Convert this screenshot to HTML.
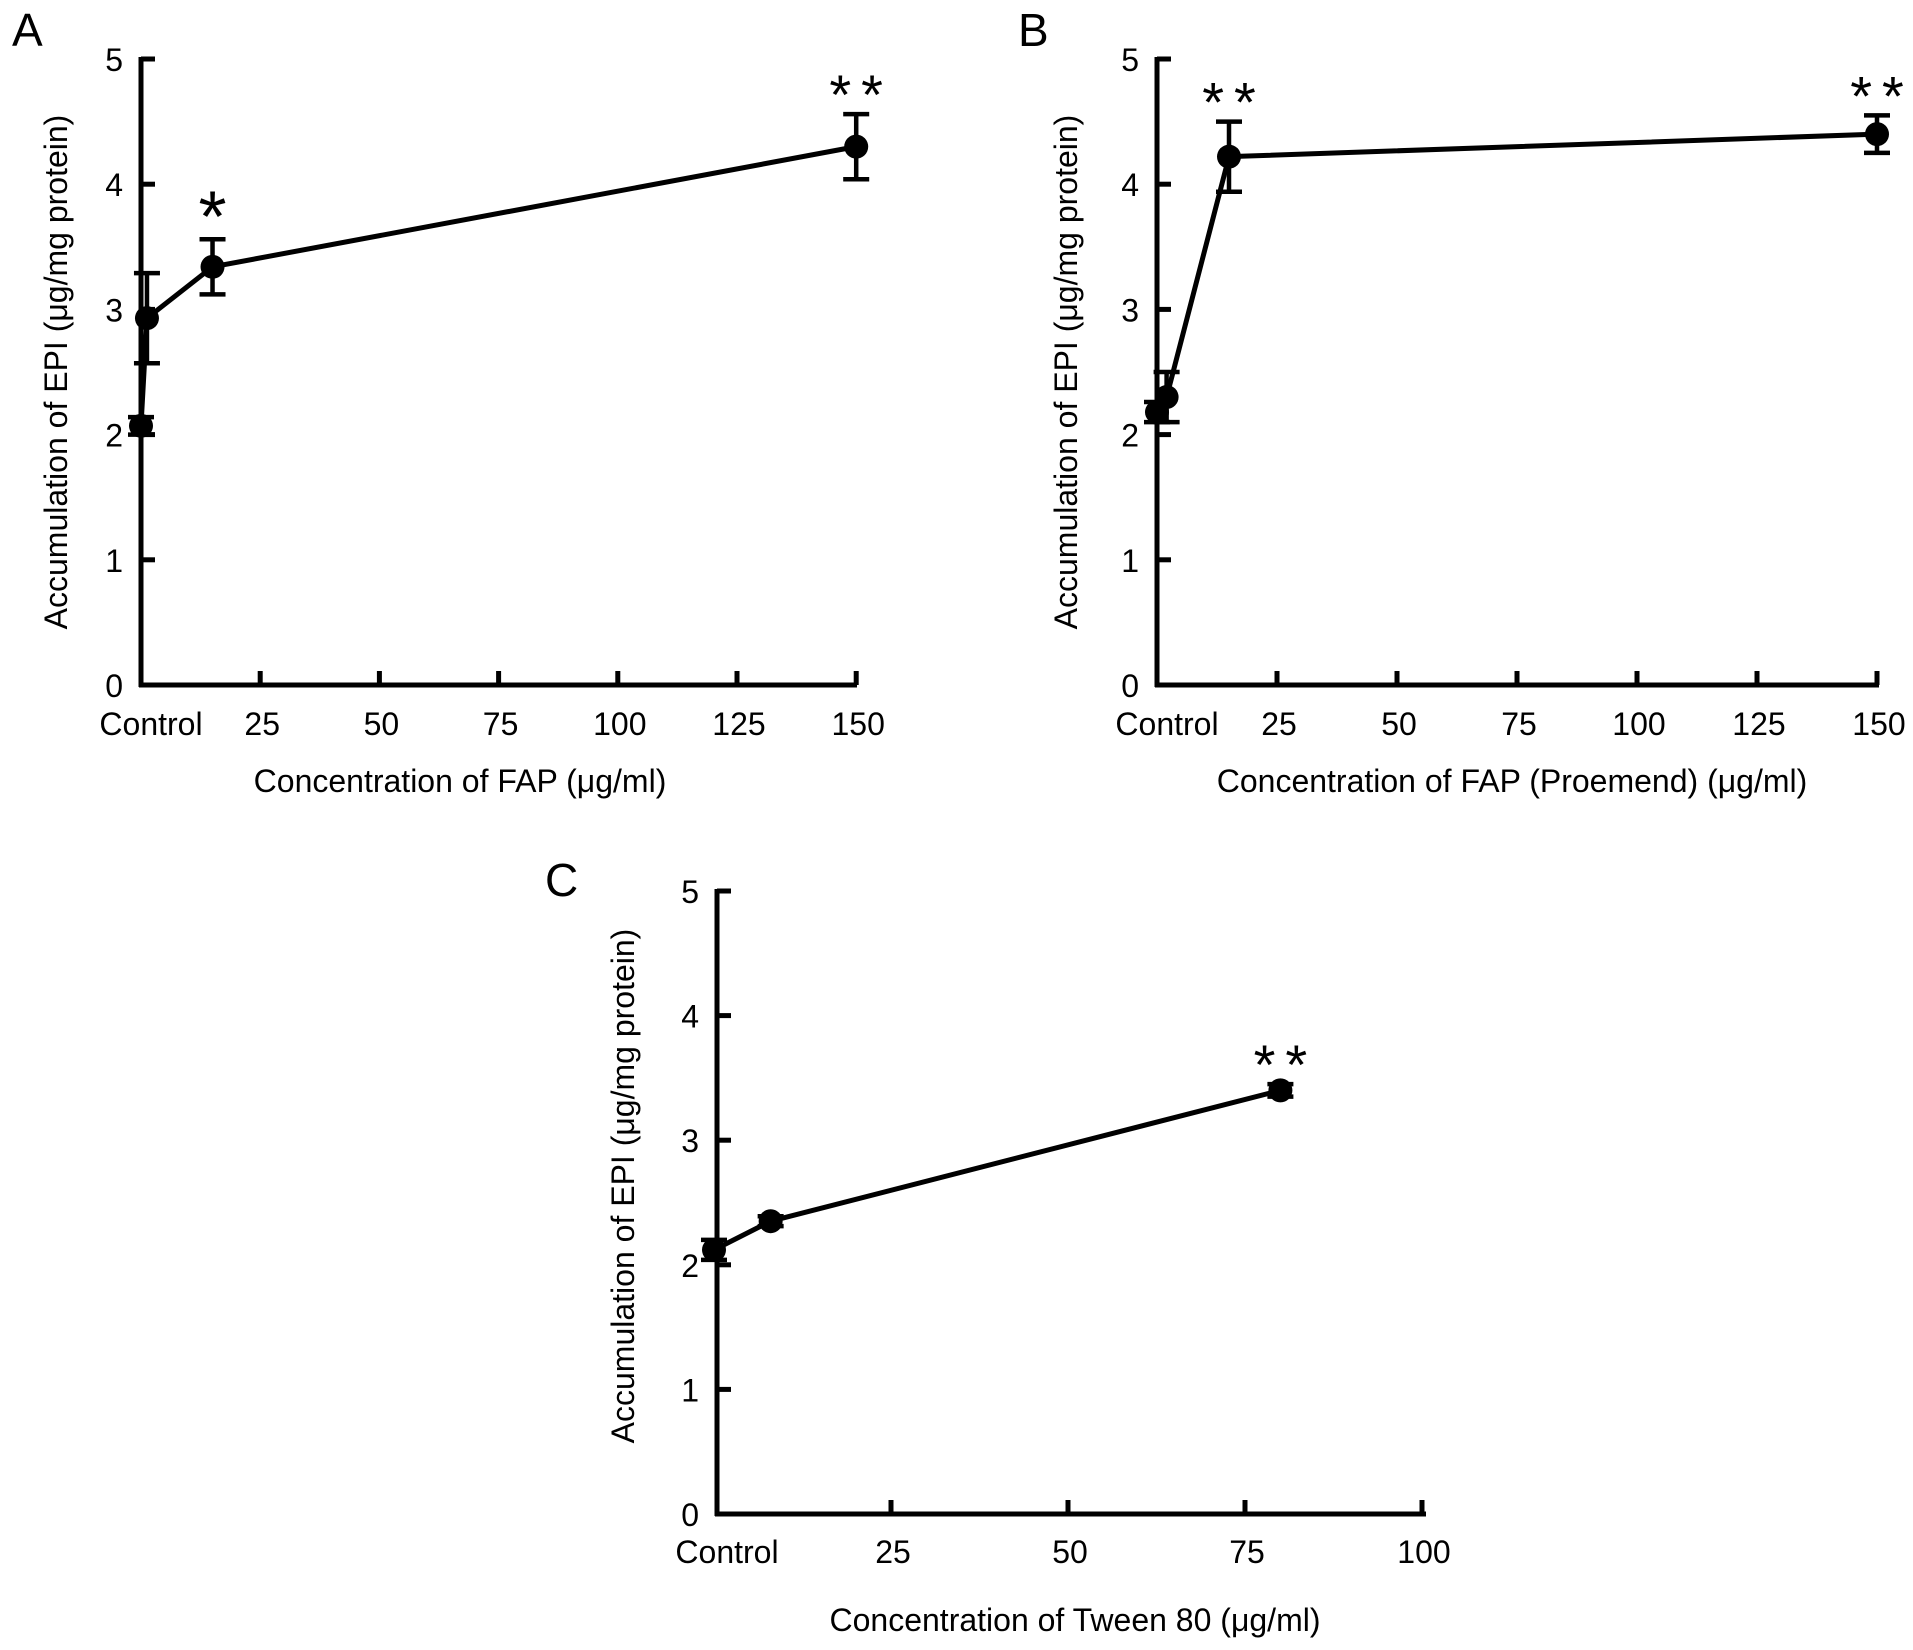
<!DOCTYPE html>
<html><head><meta charset="utf-8"><style>
html,body{margin:0;padding:0;background:#fff;}
svg{display:block;font-family:"Liberation Sans",Arial,sans-serif;}
</style></head><body>
<svg id="fig" width="1913" height="1650" viewBox="0 0 1913 1650"></svg>
<script>
// Panel A data
const concA = [0, 1.25, 15, 150];
const valA = [2.07, 2.93, 3.34, 4.30];
const errA = [0.07, 0.36, 0.22, 0.26];
const sigA = ["", "", "*", "**"];
const xTicksA = [25, 50, 75, 100, 125, 150];
// Panel B data
const concB = [0, 2, 15, 150];
const valB = [2.18, 2.30, 4.22, 4.40];
const errB = [0.08, 0.20, 0.28, 0.15];
const sigB = ["", "", "**", "**"];
const xTicksB = [25, 50, 75, 100, 125, 150];
// Panel C data
const concC = [0, 8, 80];
const valC = [2.12, 2.35, 3.40];
const errC = [0.08, 0.04, 0.05];
const sigC = ["", "", "**"];
const xTicksC = [25, 50, 75, 100];
const yTicks = [0, 1, 2, 3, 4, 5];

const NS = "http://www.w3.org/2000/svg";
const svg = document.getElementById("fig");
function mk(tag, attrs, parent, text) {
  const e = document.createElementNS(NS, tag);
  for (const k in attrs) e.setAttribute(k, attrs[k]);
  if (text !== undefined) e.textContent = text;
  (parent || svg).appendChild(e);
  return e;
}

function panel(cfg) {
  const g = mk("g", {});
  
  
  const xs = v => cfg.x0 + v * cfg.pxPerUnitX;
  const ys = v => cfg.y0 - v * cfg.pxPerUnitY;
  const L = mk("text", {x: cfg.letterX, y: cfg.letterY, "font-size": 46}, g, cfg.letter);
  
  
  const ya = mk("line", {x1: cfg.axisX, y1: ys(5) - 2, x2: cfg.axisX, y2: ys(0) + 2, stroke: "#000", "stroke-width": 5}, g);
  
  
  const xa = mk("line", {x1: cfg.axisX - 2, y1: ys(0), x2: cfg.axisEnd, y2: ys(0), stroke: "#000", "stroke-width": 5}, g);
  
  
  yTicks.forEach(t => {
    if (t > 0) {
      const tk = mk("line", {x1: cfg.axisX, y1: ys(t), x2: cfg.axisX + 14, y2: ys(t), stroke: "#000", "stroke-width": 5}, g);
      
      
    }
    const tl = mk("text", {x: cfg.axisX - 18, y: ys(t) + 12, "font-size": 32, "text-anchor": "end"}, g, String(t));
    
    
  });
  cfg.xTicks.forEach(t => {
    const tk = mk("line", {x1: xs(t), y1: ys(0), x2: xs(t), y2: ys(0) - 14, stroke: "#000", "stroke-width": 5}, g);
    
    
    const tl = mk("text", {x: xs(t) + 2, y: cfg.tickLabelY, "font-size": 32, "text-anchor": "middle"}, g, String(t));
    
    
  });
  const ct = mk("text", {x: cfg.axisX + 10, y: cfg.tickLabelY, "font-size": 32, "text-anchor": "middle"}, g, "Control");
  
  
  const xt = mk("text", {x: cfg.titleX, y: cfg.titleY, "font-size": 32, "text-anchor": "middle"}, g, cfg.xTitle);
  
  
  const yt = mk("text", {x: 0, y: 0, "font-size": 32, "text-anchor": "middle", transform: `translate(${cfg.yTitleX},${cfg.yTitleY}) rotate(-90)`}, g, "Accumulation of EPI (\u03bcg/mg protein)");
  
  
  const pts = cfg.conc.map((c, i) => xs(c) + "," + ys(cfg.val[i])).join(" ");
  const pl = mk("polyline", {points: pts, fill: "none", stroke: "#000", "stroke-width": 5, "stroke-linejoin": "round"}, g);
  
  
  cfg.conc.forEach((c, i) => {
    const cx = xs(c), top = ys(cfg.val[i] + cfg.err[i]), bot = ys(cfg.val[i] - cfg.err[i]);
    const eb = mk("path", {d: `M${cx},${top}V${bot}M${cx - 13},${top}H${cx + 13}M${cx - 13},${bot}H${cx + 13}`, stroke: "#000", "stroke-width": 4.5, fill: "none"}, g);
    
    
    const pt = mk("circle", {cx: cx, cy: ys(cfg.val[i]), r: 12, fill: "#000"}, g);
    
    
    if (cfg.sig[i]) {
      const one = cfg.sig[i] === "*";
      const s = mk("text", {x: cx + (one ? 0 : 5), y: top + (one ? 2 : 0), "font-size": one ? 72 : 56, "text-anchor": "middle", "letter-spacing": one ? 0 : 10}, g, cfg.sig[i]);
      
      
    }
  });
}

panel({name: "panel-a", letter: "A", letterX: 12, letterY: 46, x0: 141, pxPerUnitX: 119.2 / 25, y0: 685, pxPerUnitY: 125.2,
  axisX: 141, axisEnd: 857, xTicks: xTicksA, tickLabelY: 735, titleX: 460, titleY: 792, xTitle: "Concentration of FAP (\u03bcg/ml)",
  yTitleX: 67, yTitleY: 372, conc: concA, val: valA, err: errA, sig: sigA});
panel({name: "panel-b", letter: "B", letterX: 1018, letterY: 46, x0: 1157, pxPerUnitX: 120 / 25, y0: 685, pxPerUnitY: 125.2,
  axisX: 1157, axisEnd: 1879, xTicks: xTicksB, tickLabelY: 735, titleX: 1512, titleY: 792, xTitle: "Concentration of FAP (Proemend) (\u03bcg/ml)",
  yTitleX: 1077, yTitleY: 372, conc: concB, val: valB, err: errB, sig: sigB});
panel({name: "panel-c", letter: "C", letterX: 545, letterY: 896, x0: 714, pxPerUnitX: 177 / 25, y0: 1514, pxPerUnitY: 124.6,
  axisX: 717, axisEnd: 1426, xTicks: xTicksC, tickLabelY: 1563, titleX: 1075, titleY: 1631, xTitle: "Concentration of Tween 80 (\u03bcg/ml)",
  yTitleX: 634, yTitleY: 1186, conc: concC, val: valC, err: errC, sig: sigC});
</script>
</body></html>
